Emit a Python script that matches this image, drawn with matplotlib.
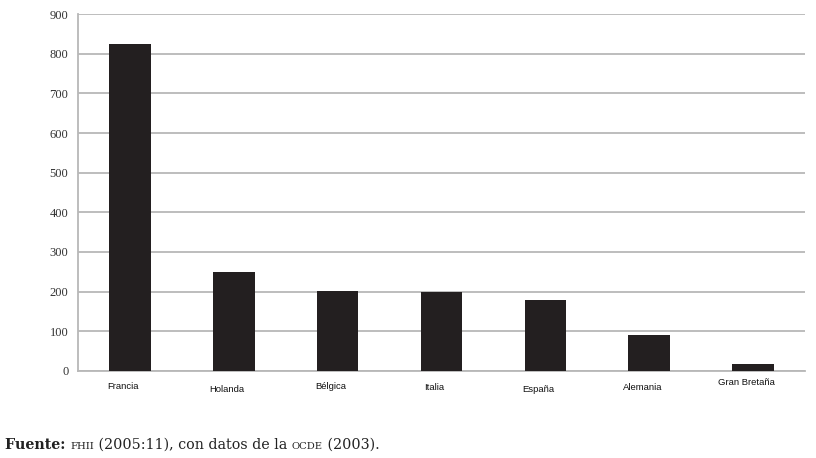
import matplotlib
matplotlib.use("Agg")
import matplotlib.pyplot as plt

countries = ["Francia", "Holanda", "Bélgica", "Italia", "España", "Alemania", "Gran Bretaña"]
values = [824, 250, 202, 199, 179, 91, 18]
yticks = [0, 100, 200, 300, 400, 500, 600, 700, 800, 900]
label_dy = [0, -2, 0, -1, -2, -1, 3]  # slight vertical jitter of the labels in points

fig = plt.figure(figsize=(8.16, 4.58), dpi=100)
ax = fig.add_axes([0.0956, 0.19, 0.891, 0.7794])
x = range(len(countries))
ax.bar(x, values, width=0.4, color="#231f20", zorder=3)
ax.set_xlim(-0.5, len(countries) - 0.5)
ax.set_ylim(0, 900)
ax.set_yticks(yticks)
ax.set_yticklabels([str(v) for v in yticks], family="Liberation Serif", fontsize=9, color="#333333")
ax.yaxis.grid(True, color="#b8b8b8", linewidth=1.3, zorder=0)
ax.tick_params(axis="y", length=0, pad=7)
ax.tick_params(axis="x", length=0)
ax.set_xticks(list(x))
ax.set_xticklabels([])
for i, (c, dy) in enumerate(zip(countries, label_dy)):
    ax.annotate(c, xy=(i, 0), xycoords=("data", "axes fraction"), xytext=(-5, -11 + dy),
                textcoords="offset points", ha="center", va="center",
                family="Liberation Sans", fontsize=6.8, color="#111111")
for s in ["top", "right"]:
    ax.spines[s].set_visible(False)
ax.spines["left"].set_color("#b8b8b8")
ax.spines["left"].set_linewidth(1.3)
ax.spines["bottom"].set_color("#b8b8b8")
ax.spines["bottom"].set_linewidth(1.3)

# footnote with mixed styles
parts = [("Fuente: ", 10.3, "bold"), ("FHII", 7.2, "normal"), (" (2005:11), con datos de la ", 10.3, "normal"),
         ("OCDE", 7.2, "normal"), (" (2003).", 10.3, "normal")]
fig.canvas.draw()
r = fig.canvas.get_renderer()
xpix = 5
ybase = 458 - 449
for txt, fs, fw in parts:
    t = fig.text(xpix / 816, ybase / 458, txt, fontsize=fs, fontweight=fw, family="DejaVu Serif",
                 color="#222222", va="baseline", ha="left")
    bb = t.get_window_extent(renderer=r)
    xpix += bb.width

fig.savefig("out.png", dpi=100, facecolor="white")
